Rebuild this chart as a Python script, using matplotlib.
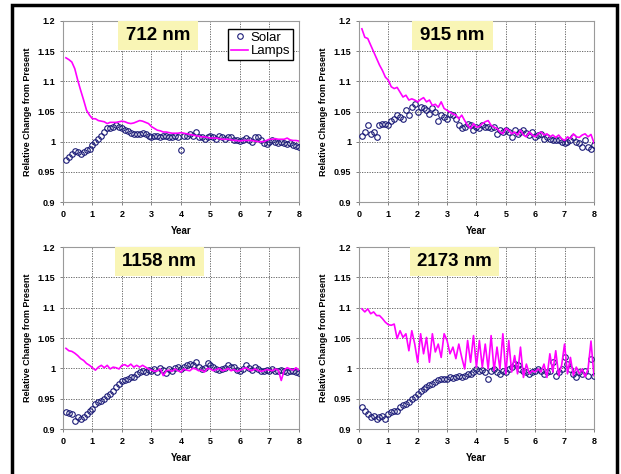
import numpy as np
import matplotlib
matplotlib.use("Agg")
import matplotlib.pyplot as plt
from matplotlib.patches import Rectangle

plt.rcParams['font.family'] = ['Liberation Sans', 'DejaVu Sans']

years = np.round(np.arange(0.1, 8.01, 0.1), 1)
labels = ["712 nm", "915 nm", "1158 nm", "2173 nm"]

lamps_712 = [1.139, 1.136, 1.132, 1.121, 1.102, 1.085, 1.069, 1.052, 1.044, 1.038,
             1.038, 1.035, 1.034, 1.033, 1.030, 1.032, 1.032, 1.032, 1.033, 1.034,
             1.033, 1.031, 1.030, 1.031, 1.033, 1.035, 1.034, 1.032, 1.030, 1.025,
             1.022, 1.019, 1.018, 1.016, 1.016, 1.015, 1.014, 1.014, 1.014, 1.015,
             1.014, 1.013, 1.012, 1.011, 1.010, 1.009, 1.008, 1.008, 1.007, 1.006,
             1.006, 1.006, 1.005, 1.004, 1.004, 1.004, 1.003, 1.002, 1.002, 1.001,
             1.002, 1.002, 1.002, 1.002, 1.001, 1.000, 1.000, 1.000, 1.002, 1.004,
             1.004, 1.005, 1.004, 1.004, 1.004, 1.006, 1.003, 1.002, 1.002, 1.001]
solar_712 = [0.969, 0.975, 0.980, 0.985, 0.983, 0.979, 0.983, 0.987, 0.988, 0.994,
             0.999, 1.005, 1.010, 1.016, 1.022, 1.023, 1.025, 1.027, 1.025, 1.022,
             1.020, 1.017, 1.014, 1.013, 1.012, 1.013, 1.014, 1.012, 1.010, 1.008,
             1.009, 1.010, 1.008, 1.009, 1.010, 1.008, 1.007, 1.009, 1.007, 0.987,
             1.010, 1.009, 1.013, 1.010, 1.016, 1.008, 1.007, 1.005, 1.007, 1.010,
             1.007, 1.005, 1.009, 1.007, 1.005, 1.008, 1.007, 1.003, 1.002, 1.001,
             1.003, 1.006, 1.002, 0.999, 1.007, 1.007, 1.003, 0.998, 0.996, 0.999,
             1.002, 0.999, 0.998, 0.999, 0.997, 0.996, 0.998, 0.994, 0.993, 0.991]

lamps_915 = [1.187, 1.173, 1.171, 1.160, 1.149, 1.138, 1.127, 1.118, 1.107, 1.102,
             1.091, 1.088, 1.090, 1.082, 1.074, 1.077, 1.069, 1.071, 1.069, 1.066,
             1.070, 1.073, 1.066, 1.069, 1.060, 1.062, 1.057, 1.066, 1.055, 1.052,
             1.049, 1.046, 1.044, 1.038, 1.044, 1.035, 1.027, 1.022, 1.030, 1.024,
             1.025, 1.030, 1.033, 1.035, 1.027, 1.024, 1.022, 1.016, 1.013, 1.022,
             1.019, 1.013, 1.016, 1.011, 1.019, 1.011, 1.008, 1.016, 1.011, 1.008,
             1.013, 1.016, 1.011, 1.013, 1.008, 1.011, 1.007, 1.011, 1.005, 1.002,
             1.008, 1.005, 1.013, 1.008, 1.007, 1.011, 1.013, 1.008, 1.012, 0.998]
solar_915 = [1.009, 1.016, 1.027, 1.013, 1.016, 1.008, 1.027, 1.030, 1.030, 1.027,
             1.035, 1.038, 1.044, 1.041, 1.038, 1.052, 1.044, 1.057, 1.063, 1.049,
             1.057, 1.055, 1.052, 1.046, 1.055, 1.049, 1.035, 1.044, 1.041, 1.038,
             1.046, 1.044, 1.038, 1.027, 1.022, 1.024, 1.030, 1.027, 1.019, 1.024,
             1.022, 1.027, 1.024, 1.025, 1.022, 1.024, 1.013, 1.019, 1.016, 1.019,
             1.016, 1.008, 1.019, 1.013, 1.016, 1.019, 1.014, 1.011, 1.016, 1.008,
             1.011, 1.013, 1.005, 1.008, 1.005, 1.002, 1.002, 1.003, 0.999, 0.997,
             0.999, 1.002, 1.008, 0.999, 0.997, 0.992, 1.002, 0.991, 0.988, 0.994]

lamps_1158 = [1.033, 1.029, 1.028, 1.025, 1.021, 1.016, 1.013, 1.008, 1.005, 1.001,
              0.997, 1.002, 1.005, 1.001, 1.005, 0.999, 1.002, 1.001, 0.999, 1.005,
              1.006, 1.003, 1.007, 1.002, 1.005, 1.002, 1.005, 1.002, 0.999, 0.997,
              0.995, 0.996, 0.999, 0.988, 0.996, 0.997, 0.995, 0.999, 0.996, 0.994,
              0.999, 0.997, 0.996, 1.000, 0.999, 0.996, 0.997, 0.994, 1.000, 0.999,
              0.996, 0.998, 1.000, 0.996, 0.997, 1.000, 0.996, 0.998, 0.995, 0.997,
              0.999, 1.001, 0.998, 0.996, 0.999, 0.997, 0.995, 0.996, 0.998, 0.997,
              0.996, 0.999, 0.997, 0.980, 0.997, 1.001, 0.999, 0.997, 1.001, 0.997]
solar_1158 = [0.928, 0.926, 0.924, 0.914, 0.919, 0.917, 0.919, 0.925, 0.930, 0.933,
              0.941, 0.944, 0.947, 0.950, 0.955, 0.958, 0.963, 0.969, 0.974, 0.979,
              0.981, 0.983, 0.985, 0.986, 0.990, 0.994, 0.996, 0.994, 0.997, 0.995,
              0.999, 0.994, 1.001, 0.997, 0.992, 0.999, 0.996, 1.001, 1.003, 0.999,
              1.002, 1.005, 1.007, 1.005, 1.010, 1.002, 0.999, 1.001, 1.008, 1.005,
              1.002, 0.999, 0.997, 0.999, 1.001, 1.005, 1.002, 1.003, 0.997, 0.996,
              0.999, 1.005, 1.001, 0.997, 1.002, 0.999, 0.996, 0.995, 0.997, 0.996,
              0.999, 0.995, 0.996, 0.998, 0.996, 0.994, 0.995, 0.996, 0.994, 0.992]

lamps_2173 = [1.098, 1.093, 1.098, 1.090, 1.093, 1.087, 1.087, 1.082, 1.076, 1.072,
              1.071, 1.073, 1.049, 1.062, 1.051, 1.057, 1.029, 1.062, 1.040, 1.010,
              1.057, 1.024, 1.051, 1.010, 1.057, 1.027, 1.040, 1.018, 1.057, 1.046,
              1.024, 1.035, 1.016, 1.040, 1.018, 0.999, 1.046, 1.010, 1.054, 1.002,
              1.046, 1.002, 1.040, 0.999, 1.054, 0.996, 1.035, 0.999, 1.057, 0.991,
              1.046, 0.994, 1.021, 0.991, 1.035, 0.985, 1.007, 0.991, 0.996, 0.994,
              0.999, 0.994, 1.007, 0.985, 1.024, 0.994, 1.029, 0.988, 1.005, 1.040,
              0.991, 1.018, 0.988, 1.002, 0.991, 0.999, 0.986, 0.999, 1.045, 0.988]
solar_2173 = [0.937, 0.930, 0.925, 0.919, 0.922, 0.917, 0.919, 0.922, 0.917, 0.925,
              0.928, 0.929, 0.930, 0.936, 0.939, 0.941, 0.944, 0.950, 0.953, 0.958,
              0.963, 0.966, 0.969, 0.972, 0.974, 0.977, 0.980, 0.983, 0.983, 0.983,
              0.985, 0.984, 0.986, 0.988, 0.986, 0.988, 0.991, 0.991, 0.994, 0.999,
              0.996, 0.997, 0.994, 0.983, 0.996, 0.999, 0.994, 0.991, 0.996, 0.994,
              0.999, 1.002, 1.007, 1.005, 0.999, 0.996, 0.994, 0.991, 0.994, 0.996,
              0.999, 0.996, 0.991, 0.994, 0.996, 1.010, 0.988, 0.994, 0.999, 1.018,
              1.007, 0.999, 0.991, 0.985, 0.994, 0.991, 0.996, 0.988, 1.016, 0.988]

solar = [solar_712, solar_915, solar_1158, solar_2173]
lamps = [lamps_712, lamps_915, lamps_1158, lamps_2173]

yticks = [0.9, 0.95, 1.0, 1.05, 1.1, 1.15, 1.2]
ytick_labels = ["0.9", "0.95", "1", "1.05", "1.1", "1.15", "1.2"]

fig = plt.figure(figsize=(6.21, 4.74), dpi=100)

# axes boxes in figure fraction (left, bottom, width, height)
boxes = [(0.1014, 0.5738, 0.380, 0.3819),
         (0.578, 0.5738, 0.3784, 0.3819),
         (0.1014, 0.0949, 0.380, 0.384),
         (0.578, 0.0949, 0.3784, 0.384)]
label_x = [0.233, 0.226, 0.22, 0.217]
label_w = [0.339, 0.345, 0.377, 0.379]

for i in range(4):
    ax = fig.add_axes(boxes[i])
    ax.plot(years, solar[i], 'o', mfc='none', mec='#1c1c78', ms=4, mew=0.8,
            label='Solar', zorder=3)
    ax.plot(years, lamps[i], '-', color='#ff00ff', lw=1.2, label='Lamps', zorder=4)
    ax.set_xlim(0, 8)
    ax.set_ylim(0.9, 1.2)
    ax.set_xticks(range(9))
    ax.set_yticks(yticks)
    ax.set_yticklabels(ytick_labels)
    ax.grid(True, linestyle=(0, (1.5, 1.5)), color='#555555', lw=0.6)
    ax.set_axisbelow(True)
    for sp in ax.spines.values():
        sp.set_color('#9a9a9a')
        sp.set_linewidth(0.8)
    ax.tick_params(labelsize=6.5, length=2.5, width=0.7, color='#808080', pad=3)
    for t in ax.get_xticklabels() + ax.get_yticklabels():
        t.set_fontweight('bold')
    ax.set_xlabel("Year", fontsize=7, fontweight='bold', labelpad=5)
    ax.set_ylabel("Relative Change from Present", fontsize=6.5, fontweight='bold',
                  labelpad=4)

    ax.add_patch(Rectangle((label_x[i], 0.84), label_w[i], 0.16, transform=ax.transAxes,
                           facecolor='#f9f5b5', edgecolor='none', zorder=5))
    ax.text(label_x[i] + label_w[i] / 2, 0.918, labels[i], transform=ax.transAxes,
            ha='center', va='center', fontsize=13.5, fontweight='bold', zorder=6)

    if i == 0:
        leg = ax.legend(loc='upper right', bbox_to_anchor=(0.975, 0.956),
                        borderaxespad=0, fancybox=False, framealpha=1,
                        edgecolor='black', fontsize=9.5, handlelength=1.3,
                        handletextpad=0.2, borderpad=0.2, labelspacing=0.1)
        leg.get_frame().set_linewidth(1.0)
        leg.set_zorder(7)

# thick black frame around the whole figure
fig.patches.append(Rectangle((12 / 621, -0.05), 605 / 621, 1.05 - 5 / 474,
                             transform=fig.transFigure, fill=False,
                             edgecolor='black', lw=2.5))

fig.savefig("out.png", dpi=100)
